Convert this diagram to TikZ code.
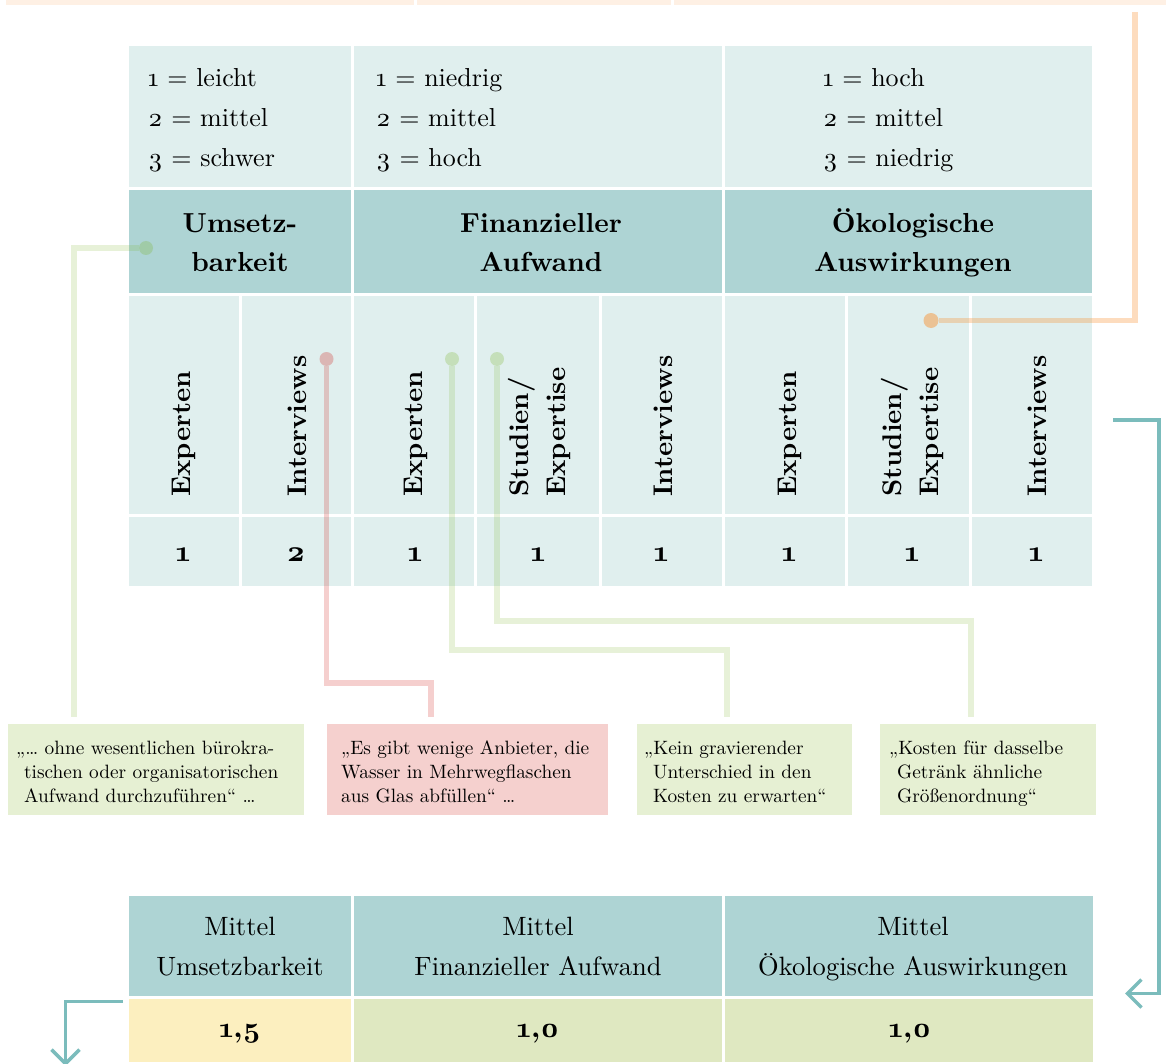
\documentclass[tikz,border=0pt]{standalone}
\usepackage{fontspec}
\setmainfont{lmroman10-regular.otf}[BoldFont=lmroman10-bold.otf, Numbers=OldStyle]
\usetikzlibrary{arrows.meta}
\definecolor{legbg}{HTML}{E0EFEE}
\definecolor{hdbg}{HTML}{AED4D4}
\definecolor{topbar}{HTML}{FEF0E4}
\definecolor{qgreen}{HTML}{E6F0D3}
\definecolor{qred}{HTML}{F5D0CE}
\definecolor{vyellow}{HTML}{FCEFBF}
\definecolor{vgreen}{HTML}{DFE8C1}
\definecolor{tealc}{HTML}{7BBCBC}
\definecolor{lgreen}{RGB}{120,180,40}
\definecolor{lred}{RGB}{205,15,10}
\definecolor{lorange}{RGB}{250,140,40}
\tikzset{
  legtxt/.style={font=\fontsize{26}{30}\selectfont, anchor=base west, inner sep=0},
  hdtxt/.style={font=\bfseries\fontsize{27.5}{30}\selectfont, anchor=base, inner sep=0},
  rottxt/.style={font=\bfseries\fontsize{27}{37}\selectfont, rotate=90, anchor=west, inner sep=0, align=left},
  valtxt/.style={font=\bfseries\fontsize{30}{32}\selectfont, inner sep=0},
  bvaltxt/.style={font=\bfseries\fontsize{29}{32}\selectfont, inner sep=0},
  mtxt/.style={font=\fontsize{26.5}{30}\selectfont, anchor=base, inner sep=0},
  qtxt/.style={font=\fontsize{19.3}{24}\selectfont, anchor=base west, inner sep=0},
  qbox/.style={anchor=north west, inner sep=0, minimum height=91pt},
  gline/.style={line width=5.5pt, draw=lgreen, draw opacity=0.18},
  rline/.style={line width=5.5pt, draw=lred, draw opacity=0.2},
  oline/.style={line width=5.5pt, draw=lorange, draw opacity=0.3},
  gdot/.style={circle, fill=lgreen, fill opacity=0.26, minimum size=14pt, inner sep=0},
  rdot/.style={circle, fill=lred, fill opacity=0.25, minimum size=14pt, inner sep=0},
  odot/.style={circle, fill=lorange, fill opacity=0.45, minimum size=15pt, inner sep=0},
  tline/.style={line width=3.5pt, draw=tealc, -{Straight Barb[length=14pt, width=28pt]}},
}
\begin{document}
\begin{tikzpicture}[x=1pt,y=-1pt]
\useasboundingbox (0,0) rectangle (1166,1064);
% top bar
\fill[topbar] (6,0) rectangle (414,5);
\fill[topbar] (417,0) rectangle (671,5);
\fill[topbar] (674,0) rectangle (1166,5);
% table 1
\foreach \a/\b in {129/351, 354/722, 725/1092}{
  \fill[legbg] (\a,46) rectangle (\b,187);
  \fill[hdbg] (\a,190) rectangle (\b,293);
}
\foreach \a/\b in {129/239, 242/351, 354/474, 477/599, 602/722, 725/845, 848/969, 972/1092}{
  \fill[legbg] (\a,296) rectangle (\b,514);
  \fill[legbg] (\a,517) rectangle (\b,586);
}
% legend
\node[legtxt] (l11) at (148,87) {1 = leicht};
\node[legtxt] (l12) at (148,127) {2 = mittel};
\node[legtxt] (l13) at (148,167) {3 = schwer};
\node[legtxt] (l21) at (376,87) {1 = niedrig};
\node[legtxt] (l22) at (376,127) {2 = mittel};
\node[legtxt] (l23) at (376,167) {3 = hoch};
\node[legtxt] (l31) at (823,87) {1 = hoch};
\node[legtxt] (l32) at (823,127) {2 = mittel};
\node[legtxt] (l33) at (823,167) {3 = niedrig};
% headers
\node[hdtxt] (h1a) at (240,233) {Umsetz-};
\node[hdtxt] (h1b) at (240,272) {barkeit};
\node[hdtxt] (h2a) at (541,233) {Finanzieller};
\node[hdtxt] (h2b) at (541,272) {Aufwand};
\node[hdtxt] (h3a) at (913,233) {Ökologische};
\node[hdtxt] (h3b) at (913,272) {Auswirkungen};
% sub headers (rotated)
\node[rottxt] (s1) at (184,497) {Experten};
\node[rottxt] (s2) at (297,497) {Interviews};
\node[rottxt] (s3) at (416,497) {Experten};
\node[rottxt] (s4) at (539,497) {Studien/\\Expertise};
\node[rottxt] (s5) at (663,497) {Interviews};
\node[rottxt] (s6) at (790,497) {Experten};
\node[rottxt] (s7) at (912,497) {Studien/\\Expertise};
\node[rottxt] (s8) at (1037,497) {Interviews};
% values
\foreach \x/\v [count=\i] in {183/1, 296/2, 415/1, 538/1, 661/1, 789/1, 912/1, 1036/1}{
  \node[valtxt] (v\i) at (\x,555) {\v};
}
% quote boxes
\node[qbox, fill=qgreen, minimum width=296pt] (q1) at (8,724) {};
\node[qbox, fill=qred, minimum width=281pt] (q2) at (327,724) {};
\node[qbox, fill=qgreen, minimum width=215pt] (q3) at (637,724) {};
\node[qbox, fill=qgreen, minimum width=216pt] (q4) at (880,724) {};
\node[qtxt] (q1a) at (16,754) {„… ohne wesentlichen bürokra-};
\node[qtxt] (q1b) at (24,778) {tischen oder organisatorischen};
\node[qtxt] (q1c) at (24,802) {Aufwand durchzuführen“ …};
\node[qtxt] (q2a) at (341,754) {„Es gibt wenige Anbieter, die};
\node[qtxt] (q2b) at (341,778) {Wasser in Mehrwegflaschen};
\node[qtxt] (q2c) at (341,802) {aus Glas abfüllen“ …};
\node[qtxt] (q3a) at (644,754) {„Kein gravierender};
\node[qtxt] (q3b) at (653,778) {Unterschied in den};
\node[qtxt] (q3c) at (653,802) {Kosten zu erwarten“};
\node[qtxt] (q4a) at (889,754) {„Kosten für dasselbe};
\node[qtxt] (q4b) at (897,778) {Getränk ähnliche};
\node[qtxt] (q4c) at (897,802) {Größenordnung“};
% connectors
\node[gdot] (dU) at (146,248) {};
\node[rdot] (dR) at (326.5,359) {};
\node[gdot] (dF1) at (452,359) {};
\node[gdot] (dF2) at (497,359) {};
\node[odot] (dO) at (931,320.5) {};
\coordinate (eU) at (74,717);
\coordinate (kR) at (431,683);
\coordinate (eR) at (431,717);
\coordinate (kF1) at (727,650);
\coordinate (eF1) at (727,717);
\coordinate (kF2) at (971,621);
\coordinate (eF2) at (971,717);
\coordinate (eO) at (1135,12);
\draw[gline] (dU) -| (eU);
\draw[rline] (dR) |- (kR) -- (eR);
\draw[gline] (dF1) |- (kF1) -- (eF1);
\draw[gline] (dF2) |- (kF2) -- (eF2);
\draw[oline] (dO) -| (eO);
% bottom table
\foreach \a/\b in {129/351, 354/722, 725/1093}{
  \fill[hdbg] (\a,896) rectangle (\b,996);
}
\fill[vyellow] (129,999) rectangle (351,1062);
\fill[vgreen] (354,999) rectangle (722,1062);
\fill[vgreen] (725,999) rectangle (1093,1062);
\node[mtxt] (m1a) at (240,935) {Mittel};
\node[mtxt] (m1b) at (240,975) {Umsetzbarkeit};
\node[mtxt] (m2a) at (538,935) {Mittel};
\node[mtxt] (m2b) at (538,975) {Finanzieller Aufwand};
\node[mtxt] (m3a) at (913,935) {Mittel};
\node[mtxt] (m3b) at (913,975) {Ökologische Auswirkungen};
\node[bvaltxt] (r1) at (240,1034) {1,5};
\node[bvaltxt] (r2) at (538,1034) {1,0};
\node[bvaltxt] (r3) at (910,1034) {1,0};
% teal arrows
\coordinate (tA) at (1113,420);
\coordinate (tK) at (1159,993.5);
\coordinate (tB) at (1125,993.5);
\draw[tline] (tA) -| (tK) -- (tB);
\coordinate (tD) at (123,1001.5);
\coordinate (tE) at (65.5,1066);
\draw[tline] (tD) -| (tE);
\end{tikzpicture}
\end{document}
